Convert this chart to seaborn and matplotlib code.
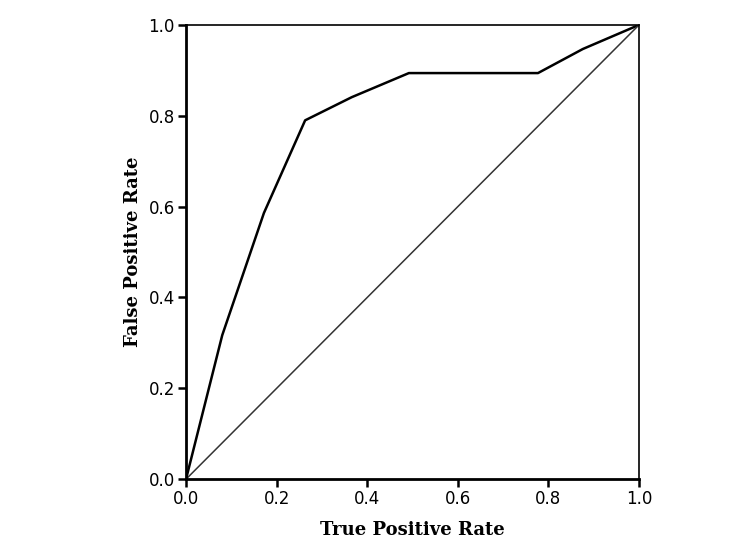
import matplotlib
matplotlib.use("Agg")
import matplotlib.pyplot as plt
import seaborn as sns
import pandas as pd

# ROC curve points
fpr = [0.0, 0.08, 0.172, 0.263, 0.366, 0.492, 0.777, 0.876, 1.0]
tpr = [0.0, 0.317, 0.586, 0.79, 0.841, 0.894, 0.894, 0.947, 1.0]
diag = [0.0, 1.0]
ticks = [0.0, 0.2, 0.4, 0.6, 0.8, 1.0]

sns.set_style("white")
plt.rcParams["text.color"] = "black"
plt.rcParams["xtick.color"] = "black"
plt.rcParams["ytick.color"] = "black"
plt.rcParams["axes.labelcolor"] = "black"

fig = plt.figure(figsize=(7.5, 5.54), dpi=100)
ax = fig.add_axes([0.248, 0.135, 0.604, 0.82])

curve = pd.DataFrame({"x": fpr, "y": tpr})
sns.lineplot(data=curve, x="x", y="y", ax=ax, color="black", linewidth=1.8,
             sort=False, estimator=None)
sns.lineplot(x=diag, y=diag, ax=ax, color="#333333", linewidth=1.1)

ax.set_xlim(0, 1)
ax.set_ylim(0, 1)
ax.set_xticks(ticks)
ax.set_yticks(ticks)
ax.set_xticklabels([f"{t:.1f}" for t in ticks], fontsize=12, family="DejaVu Sans")
ax.set_yticklabels([f"{t:.1f}" for t in ticks], fontsize=12, family="DejaVu Sans")
ax.tick_params(direction="out", length=6, width=1.8, color="black", pad=2,
               bottom=True, left=True, labelcolor="black")

for side in ["left", "bottom"]:
    ax.spines[side].set_linewidth(2.0)
    ax.spines[side].set_color("black")
for side in ["top", "right"]:
    ax.spines[side].set_linewidth(1.2)
    ax.spines[side].set_color("black")

ax.set_xlabel("True Positive Rate", fontsize=13, fontweight="bold",
              family="DejaVu Serif", labelpad=9, color="black")
ax.set_ylabel("False Positive Rate", fontsize=13, fontweight="bold",
              family="DejaVu Serif", labelpad=5, color="black")

fig.savefig("out.png", dpi=100)
